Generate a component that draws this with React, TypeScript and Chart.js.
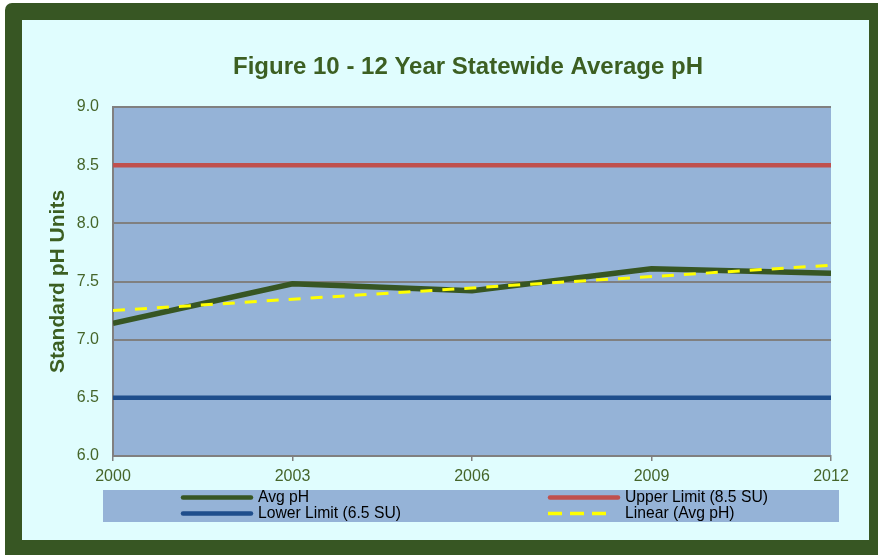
import React, { useEffect, useRef } from "react";
import { Chart, registerables } from "chart.js";

Chart.register(...registerables);

const TITLE = "Figure 10 - 12 Year Statewide Average pH";
const Y_TITLE = "Standard pH Units";
const years = [2000, 2003, 2006, 2009, 2012];
const avgPH = [7.14, 7.48, 7.42, 7.61, 7.57];
const upperLimit = [8.5, 8.5, 8.5, 8.5, 8.5];
const lowerLimit = [6.5, 6.5, 6.5, 6.5, 6.5];
const trendYears = [2000, 2012];
const trendValues = [7.25, 7.64];
const labels = {
  avg: "Avg pH",
  upper: "Upper Limit (8.5 SU)",
  lower: "Lower Limit (6.5 SU)",
  trend: "Linear (Avg pH)",
};

const FONT = '"Liberation Sans", Arial, sans-serif';
const DARK_GREEN = "#375623";
const TEXT_GREEN = "#3C5F22";
const TICK_GREEN = "#45652A";
const PLOT_BG = "#95B3D7";
const INNER_BG = "#E0FDFE";
const GRID = "#808080";

const frame = {
  id: "frame",
  beforeDraw(chart: any) {
    const { ctx, chartArea } = chart;
    ctx.save();
    ctx.fillStyle = DARK_GREEN;
    ctx.beginPath();
    (ctx as any).roundRect(5, 3, 890, 570, 7);
    ctx.fill();
    ctx.fillStyle = INNER_BG;
    ctx.fillRect(22, 20, 847, 520);
    ctx.fillStyle = PLOT_BG;
    ctx.fillRect(chartArea.left, chartArea.top, chartArea.right - chartArea.left, chartArea.bottom - chartArea.top);
    ctx.restore();
  },
  afterDraw(chart: any) {
    const { ctx, chartArea } = chart;
    ctx.save();
    // title
    ctx.fillStyle = TEXT_GREEN;
    ctx.font = `bold 24px ${FONT}`;
    ctx.textAlign = "center";
    ctx.textBaseline = "middle";
    ctx.fillText(TITLE, (chartArea.left + chartArea.right) / 2 - 4, 67);
    // legend
    ctx.fillStyle = PLOT_BG;
    ctx.fillRect(103, 490, 736, 32);
    const order = [labels.avg, labels.upper, labels.lower, labels.trend];
    const cols = [181, 548];
    const rows = [497.5, 513.5];
    order.forEach((lab, i) => {
      const ds = chart.data.datasets.find((d: any) => d.label === lab);
      if (!ds) return;
      const x = cols[i % 2];
      const y = rows[Math.floor(i / 2)];
      ctx.beginPath();
      ctx.strokeStyle = ds.borderColor;
      if (ds.borderDash && ds.borderDash.length) {
        ctx.setLineDash([14, 8]);
        ctx.lineWidth = 3.5;
        ctx.lineCap = "butt";
        ctx.moveTo(x, y);
        ctx.lineTo(x + 58, y);
      } else {
        ctx.setLineDash([]);
        ctx.lineWidth = 4.5;
        ctx.lineCap = "round";
        ctx.moveTo(x + 2, y);
        ctx.lineTo(x + 70, y);
      }
      ctx.stroke();
      ctx.setLineDash([]);
      ctx.fillStyle = "#000";
      ctx.font = `15.7px ${FONT}`;
      ctx.textAlign = "left";
      ctx.textBaseline = "middle";
      ctx.fillText(lab, x + 77, y + 0.5);
    });
    ctx.restore();
  },
};

export default function App() {
  const ref = useRef<HTMLCanvasElement | null>(null);
  useEffect(() => {
    if (!ref.current) return;
    const pts = (xs: number[], ys: number[]) => xs.map((x, i) => ({ x, y: ys[i] }));
    const chart = new Chart(ref.current, {
      type: "line",
      data: {
        datasets: [
          {
            label: labels.trend,
            data: pts(trendYears, trendValues),
            borderColor: "#FFFF00",
            borderWidth: 3,
            borderDash: [12, 10],
            pointRadius: 0,
            tension: 0,
          },
          {
            label: labels.avg,
            data: pts(years, avgPH),
            borderColor: DARK_GREEN,
            borderWidth: 5.5,
            pointRadius: 0,
            tension: 0,
          },
          {
            label: labels.upper,
            data: pts(years, upperLimit),
            borderColor: "#C0504D",
            borderWidth: 4.5,
            pointRadius: 0,
            tension: 0,
          },
          {
            label: labels.lower,
            data: pts(years, lowerLimit),
            borderColor: "#1F4E8C",
            borderWidth: 4.5,
            pointRadius: 0,
            tension: 0,
          },
        ],
      },
      options: {
        animation: false,
        responsive: false,
        layout: { padding: { top: 107, left: 0, right: 47, bottom: 0 } },
        plugins: { legend: { display: false }, title: { display: false }, tooltip: { enabled: false } },
        scales: {
          x: {
            type: "linear",
            min: 2000,
            max: 2012,
            afterFit: (s: any) => {
              s.height = 99;
            },
            ticks: {
              stepSize: 3,
              callback: (v: any) => String(v),
              color: TICK_GREEN,
              font: { family: FONT, size: 16 },
              padding: 6,
              maxRotation: 0,
            },
            grid: { drawOnChartArea: false, drawTicks: true, tickLength: 5, color: GRID, lineWidth: 1.5 },
            border: { display: true, color: GRID, width: 2 },
          },
          y: {
            min: 6,
            max: 9,
            afterFit: (s: any) => {
              s.width = 113;
            },
            ticks: {
              stepSize: 0.5,
              callback: (v: any) => Number(v).toFixed(1),
              color: TICK_GREEN,
              font: { family: FONT, size: 16 },
              padding: 14,
            },
            grid: { color: GRID, lineWidth: 2, drawTicks: false },
            border: { display: true, color: GRID, width: 2 },
            title: {
              display: true,
              text: Y_TITLE,
              color: TEXT_GREEN,
              font: { family: FONT, size: 21, weight: "bold" },
              padding: { top: 46, bottom: 0 },
            },
          },
        },
      },
      plugins: [frame],
    });
    return () => chart.destroy();
  }, []);
  return (
    <div style={{ position: "absolute", left: 0, top: 0, width: 878, height: 555 }}>
      <canvas ref={ref} width={878} height={555} style={{ display: "block" }} />
    </div>
  );
}
